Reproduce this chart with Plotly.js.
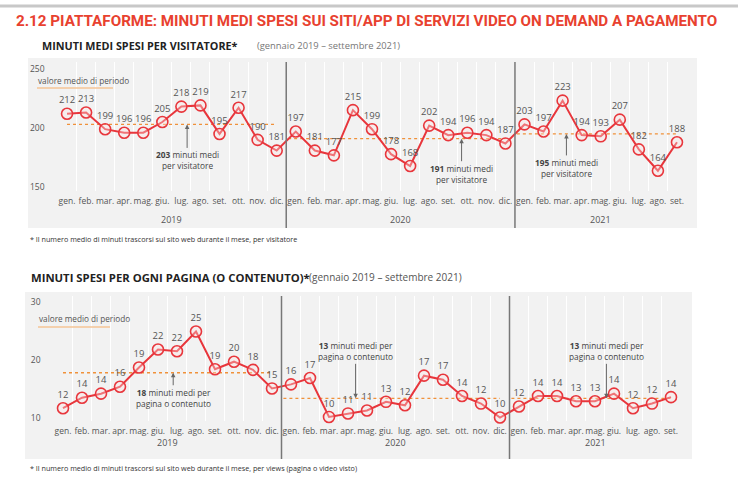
<!DOCTYPE html>
<html>
<head>
<meta charset="utf-8">
<script src="https://cdn.plot.ly/plotly-3.0.1.min.js"></script>
<style>
  html, body { margin: 0; padding: 0; background: #fff; }
  #chart { width: 740px; height: 480px; }
</style>
</head>
<body>
<div id="chart"></div>
<script>
// data (gen 2019 - set 2021)
const months = ['gen.', 'feb.', 'mar.', 'apr.', 'mag.', 'giu.', 'lug.', 'ago.', 'set.', 'ott.', 'nov.', 'dic.'];
const years = ['2019', '2020', '2021'];
const monthsPerYear = [12, 12, 9];

const visitorMinutes = [212, 213, 199, 196, 196, 205, 218, 219, 195, 217, 190, 181,
                        197, 181, 177, 215, 199, 178, 168, 202, 194, 196, 194, 187,
                        203, 197, 223, 194, 193, 207, 182, 164, 188];
const visitorLabels = visitorMinutes.map(v => String(v));
const visitorAvg = [203, 191, 195];

const pageMinutes = [11.7, 13.5, 14.2, 15.4, 18.7, 21.8, 21.5, 24.9, 18.4, 19.7, 18.3, 15.1,
                     15.8, 16.9, 10.2, 10.8, 11.3, 12.8, 12.2, 17.3, 16.6, 13.8, 12.5, 10.1,
                     12.0, 13.8, 13.8, 12.9, 12.9, 14.2, 11.7, 12.5, 13.6];
const pageLabels = ['12', '14', '14', '16', '19', '22', '22', '25', '19', '20', '18', '15',
                    '16', '17', '10', '11', '11', '13', '12', '17', '17', '14', '12', '10',
                    '12', '14', '14', '13', '13', '14', '12', '12', '14'];
const pageAvg = [17.8, 13.4, 13.4];

const RED = '#e8363c';
const ORANGE = '#f0913a';
const GREY = '#555';
const W = 740, H = 480;
const px = x => x / W;
const py = y => 1 - y / H;

// x positions and tick labels
let xIdx = [], tickText = [], yearStart = [];
monthsPerYear.forEach((n, k) => {
    yearStart.push(xIdx.length);
    for (let m = 0; m < n; m++) {
        tickText.push(months[m]);
        xIdx.push(xIdx.length);
    }
});
const gridVals = xIdx.slice(0, -1).map(i => i + 0.5);

function mainTrace(vals, labels, xa, ya) {
    return {
        x: xIdx, y: vals, xaxis: xa, yaxis: ya,
        mode: 'lines+markers+text', type: 'scatter',
        text: labels, textposition: 'top center',
        textfont: { family: 'Open Sans', size: 9.5, color: GREY },
        line: { color: RED, width: 2 },
        marker: { symbol: 'circle', size: 11, color: 'rgba(255,230,230,0.35)', line: { color: RED, width: 1.6 } },
        showlegend: false, hoverinfo: 'skip', cliponaxis: false
    };
}

function avgTraces(avgs, xa, ya) {
    return avgs.map((a, k) => {
        const s = yearStart[k], e = s + monthsPerYear[k] - 1;
        return {
            x: [s - (k ? 0.4 : 0), e], y: [a, a], xaxis: xa, yaxis: ya,
            mode: 'lines', type: 'scatter',
            line: { color: ORANGE, width: 1.3, dash: 'dot' },
            showlegend: false, hoverinfo: 'skip'
        };
    });
}

const data = [
    ...avgTraces(visitorAvg, 'x', 'y'),
    mainTrace(visitorMinutes, visitorLabels, 'x', 'y'),
    ...avgTraces(pageAvg, 'x2', 'y2'),
    mainTrace(pageMinutes, pageLabels, 'x2', 'y2')
];

function xAxis(left, right) {
    return {
        domain: [px(left), px(right)], range: [-0.5, 32.5],
        tickmode: 'array', tickvals: xIdx, ticktext: tickText, tickangle: 0,
        tickfont: { family: 'Open Sans', size: 8.5, color: GREY },
        showgrid: false, zeroline: false, showline: false, ticks: '',
        ticklabelstandoff: 3,
        minor: { tickmode: 'array', tickvals: gridVals, showgrid: true, gridcolor: '#ffffff', gridwidth: 1, ticks: '' },
        fixedrange: true
    };
}
function yAxis(top, bottom, range, vals) {
    return {
        domain: [py(bottom), py(top)], range: range,
        tickmode: 'array', tickvals: vals,
        tickfont: { family: 'Open Sans', size: 8.5, color: GREY },
        showgrid: false, zeroline: false, showline: false, ticks: '',
        ticklabelstandoff: 12, fixedrange: true
    };
}

const shapes = [
    // rule at the top of the page
    { type: 'line', xref: 'paper', yref: 'paper', x0: 0, x1: px(738), y0: py(6), y1: py(6), line: { color: '#c8c8c8', width: 3 } },
    // panel backgrounds
    { type: 'rect', xref: 'paper', yref: 'paper', layer: 'below', x0: px(28), x1: px(697), y0: py(228), y1: py(58), fillcolor: '#f2f2f2', line: { width: 0 } },
    { type: 'rect', xref: 'paper', yref: 'paper', layer: 'below', x0: px(25), x1: px(692), y0: py(459), y1: py(292), fillcolor: '#f2f2f2', line: { width: 0 } },
    // year dividers
    { type: 'line', xref: 'x', yref: 'paper', x0: 11.5, x1: 11.5, y0: py(228), y1: py(62), line: { color: '#777', width: 1.5 } },
    { type: 'line', xref: 'x', yref: 'paper', x0: 23.5, x1: 23.5, y0: py(228), y1: py(62), line: { color: '#777', width: 1.5 } },
    { type: 'line', xref: 'x2', yref: 'paper', x0: 11.5, x1: 11.5, y0: py(459), y1: py(296), line: { color: '#777', width: 1.5 } },
    { type: 'line', xref: 'x2', yref: 'paper', x0: 23.5, x1: 23.5, y0: py(459), y1: py(296), line: { color: '#777', width: 1.5 } },
    // "valore medio di periodo" key
    { type: 'line', xref: 'paper', yref: 'paper', x0: px(37), x1: px(113), y0: py(88), y1: py(88), line: { color: '#f5c596', width: 1.5 } },
    { type: 'line', xref: 'paper', yref: 'paper', x0: px(38), x1: px(110), y0: py(327), y1: py(327), line: { color: '#f5c596', width: 1.5 } }
];

function txt(text, x, y, size, color, family) {
    return {
        text: text, xref: 'paper', yref: 'paper', x: px(x), y: py(y),
        xanchor: 'left', yanchor: 'middle', showarrow: false,
        font: { family: family || 'Open Sans', size: size, color: color }
    };
}

function note(text, xa, ya, x, y, ay) {
    return {
        text: text, xref: xa, yref: ya, x: x, y: y, ax: 0, ay: ay,
        showarrow: true, arrowhead: 2, arrowsize: 0.9, arrowwidth: 1, arrowcolor: '#666',
        font: { family: 'Open Sans', size: 8.3, color: '#444' }, align: 'center'
    };
}

const annotations = [
    txt('<b>2.12 PIATTAFORME: MINUTI MEDI SPESI SUI SITI/APP DI SERVIZI VIDEO ON DEMAND A PAGAMENTO</b>', 14, 21, 15.2, '#e8412f', 'Roboto'),
    txt('<b>MINUTI MEDI SPESI PER VISITATORE*</b>', 40, 45, 10.8, '#222'),
    txt('(gennaio 2019 – settembre 2021)', 255, 45, 9.4, '#777'),
    txt('valore medio di periodo', 36, 81, 8.2, '#555'),
    txt('* Il numero medio di minuti trascorsi sul sito web durante il mese, per visitatore', 28, 239, 7.2, '#333'),
    txt('<b>MINUTI SPESI PER OGNI PAGINA (O CONTENUTO)*</b>', 29, 277, 11.3, '#222'),
    txt('(gennaio 2019 – settembre 2021)', 307, 277, 10, '#555'),
    txt('valore medio di periodo', 37, 318, 8.2, '#555'),
    txt('* Il numero medio di minuti trascorsi sul sito web durante il mese, per views (pagina o video visto)', 28, 468, 7.2, '#333'),

    note('<b>' + visitorAvg[0] + '</b> minuti medi<br>per visitatore', 'x', 'y', 6.3, visitorAvg[0], 36),
    note('<b>' + visitorAvg[1] + '</b> minuti medi<br>per visitatore', 'x', 'y', 20.7, visitorAvg[1], 35),
    note('<b>' + visitorAvg[2] + '</b> minuti medi<br>per visitatore', 'x', 'y', 26.2, visitorAvg[2], 34),
    note('<b>18</b> minuti medi per<br>pagina o contenuto', 'x2', 'y2', 5.8, pageAvg[0], 25),
    note('<b>13</b> minuti medi per<br>pagina o contenuto', 'x2', 'y2', 15.4, pageAvg[1], -47),
    note('<b>13</b> minuti medi per<br>pagina o contenuto', 'x2', 'y2', 28.6, pageAvg[2], -47)
];

// year labels under the month ticks
years.forEach((yr, k) => {
    const mid = yearStart[k] + (monthsPerYear[k] - 1) / 2;
    annotations.push({ text: yr, xref: 'x', yref: 'paper', x: mid, y: py(219), showarrow: false, font: { family: 'Open Sans', size: 9, color: GREY } });
    annotations.push({ text: yr, xref: 'x2', yref: 'paper', x: mid, y: py(451), showarrow: false, font: { family: 'Open Sans', size: 9, color: GREY } });
});

const layout = {
    width: W, height: H,
    margin: { l: 0, r: 0, t: 0, b: 0 },
    paper_bgcolor: '#ffffff', plot_bgcolor: 'rgba(0,0,0,0)',
    showlegend: false,
    xaxis: xAxis(57.5, 686.5),
    yaxis: Object.assign(yAxis(62, 191, [147, 255.5], [150, 200, 250]), { anchor: 'x' }),
    xaxis2: Object.assign(xAxis(53.5, 680.5), { anchor: 'y2' }),
    yaxis2: Object.assign(yAxis(296, 421, [9.5, 31], [10, 20, 30]), { anchor: 'x2' }),
    shapes: shapes,
    annotations: annotations
};

Plotly.newPlot('chart', data, layout, { displayModeBar: false, staticPlot: true });
</script>
</body>
</html>
